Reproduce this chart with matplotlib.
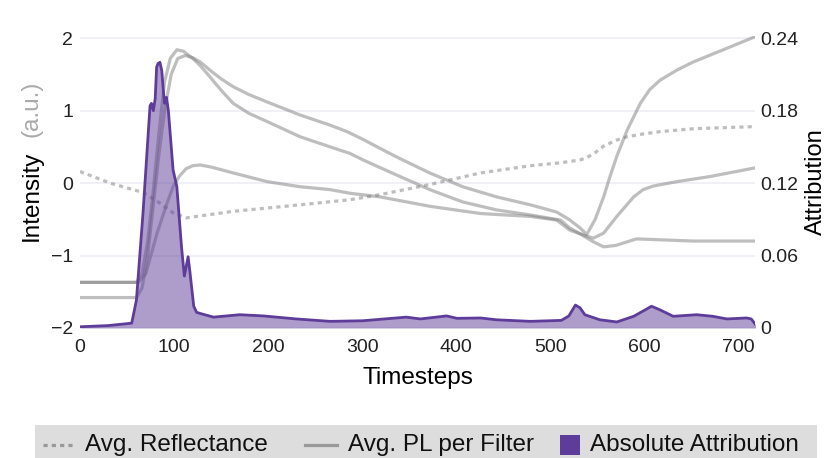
import numpy as np
import matplotlib.pyplot as plt
from matplotlib.lines import Line2D
from matplotlib.patches import Rectangle

plt.rcParams['font.family'] = ['Liberation Sans', 'DejaVu Sans']

# values
refl_t = [0, 32, 67, 82, 99, 113, 163, 234, 287, 319, 372, 426, 479, 511, 532, 539, 548, 557, 570, 582, 600,
          617, 652, 718]
refl_v = [0.16, 0.0, -0.13, -0.25, -0.41, -0.48, -0.39, -0.30, -0.23, -0.16, -0.02, 0.14, 0.24, 0.28, 0.32,
          0.35, 0.42, 0.51, 0.59, 0.64, 0.68, 0.71, 0.75, 0.78]

pl1_t = [0, 60, 66, 72, 78, 84, 90, 97, 104, 112, 120, 128, 140, 150, 163, 180, 199, 234, 266, 284, 300, 319,
         340, 372, 407, 443, 479, 507, 520, 532, 539, 548, 557, 564, 571, 582, 596, 606, 617, 635, 652, 688,
         718]
pl1_v = [-1.58, -1.58, -1.45, -1.0, -0.3, 0.4, 1.0, 1.5, 1.72, 1.76, 1.73, 1.67, 1.54, 1.44, 1.33, 1.22, 1.12,
         0.94, 0.80, 0.71, 0.61, 0.48, 0.34, 0.14, -0.05, -0.19, -0.30, -0.40, -0.50, -0.62, -0.71, -0.50,
         -0.19, 0.10, 0.37, 0.73, 1.10, 1.29, 1.42, 1.56, 1.67, 1.86, 2.02]

pl2_t = [0, 60, 66, 72, 78, 84, 90, 96, 103, 110, 120, 128, 136, 145, 153, 163, 180, 199, 234, 266, 287, 301,
         337, 372, 407, 443, 479, 511, 521, 532, 546, 557, 571, 589, 599, 610, 635, 670, 718]
pl2_v = [-1.37, -1.37, -1.25, -0.8, -0.1, 0.7, 1.4, 1.72, 1.84, 1.82, 1.72, 1.62, 1.50, 1.36, 1.24, 1.10, 0.96,
         0.85, 0.64, 0.50, 0.41, 0.32, 0.11, -0.09, -0.26, -0.37, -0.44, -0.51, -0.62, -0.70, -0.76, -0.69,
         -0.46, -0.19, -0.09, -0.04, 0.02, 0.09, 0.21]

pl3_t = [0, 62, 70, 82, 92, 99, 106, 113, 120, 128, 140, 163, 199, 234, 266, 287, 319, 372, 426, 479, 507, 521,
         532, 546, 557, 570, 592, 652, 718]
pl3_v = [-1.37, -1.37, -1.25, -0.69, -0.30, -0.05, 0.10, 0.20, 0.24, 0.25, 0.22, 0.14, 0.02, -0.05, -0.09,
         -0.14, -0.19, -0.32, -0.42, -0.46, -0.51, -0.65, -0.70, -0.81, -0.88, -0.86, -0.77, -0.80, -0.80]

attr_t = [0, 30, 55, 60, 67, 74.5, 76, 78, 80, 81.5, 83, 85, 87, 88.6, 90, 92, 94, 99, 103, 108, 111, 115, 117,
          121, 124, 128, 142, 170, 195, 230, 266, 301, 347, 362, 390, 401, 426, 443, 479, 512, 520, 527, 532,
          537, 553, 571, 589, 608, 617, 631, 656, 673, 688, 709, 714, 720]
attr_v = [0.001, 0.002, 0.004, 0.023, 0.095, 0.184, 0.186, 0.18, 0.19, 0.216, 0.219, 0.22, 0.213, 0.197, 0.186,
          0.191, 0.18, 0.131, 0.117, 0.067, 0.043, 0.059, 0.046, 0.018, 0.013, 0.012, 0.009, 0.011, 0.010,
          0.0075, 0.0055, 0.006, 0.009, 0.0075, 0.010, 0.008, 0.0083, 0.0068, 0.0055, 0.0063, 0.010, 0.019,
          0.0166, 0.011, 0.0068, 0.005, 0.0097, 0.018, 0.015, 0.0097, 0.011, 0.0097, 0.0075, 0.0083, 0.0075,
          0.0014]

left_ticks = [-2, -1, 0, 1, 2]
right_ticks = [0, 0.06, 0.12, 0.18, 0.24]
right_labels = ['0', '0.06', '0.12', '0.18', '0.24']
x_ticks = [0, 100, 200, 300, 400, 500, 600, 700]

gray = '#7f7f7f'
purple = '#5e3c99'
W, H = 829, 458

fig = plt.figure(figsize=(W / 100, H / 100), dpi=100)
ax = fig.add_axes([80 / W, 1 - 328 / H, 675 / W, 292 / H])
ax2 = ax.twinx()

for v in left_ticks:
    ax.axhline(v, color='#eceff6', lw=1.2, zorder=0)

ax.plot(refl_t, refl_v, color=gray, alpha=0.5, lw=2.3, linestyle=(0, (1.3, 1.3)), dash_capstyle='butt')
for t, v in [(pl1_t, pl1_v), (pl2_t, pl2_v), (pl3_t, pl3_v)]:
    ax.plot(t, v, color=gray, alpha=0.5, lw=2.3, solid_joinstyle='round')

ax2.fill_between(attr_t, 0, attr_v, color=purple, alpha=0.5, lw=0)
ax2.plot(attr_t, attr_v, color=purple, lw=2.0)

ax.set_xlim(0, 718)
ax.set_ylim(-2, 2.03)
ax2.set_ylim(0, 0.24 * 4.03 / 4)

ax.set_xticks(x_ticks)
ax.set_yticks(left_ticks)
ax2.set_yticks(right_ticks)
ax2.set_yticklabels(right_labels)
for a in (ax, ax2):
    for s in a.spines.values():
        s.set_visible(False)
    a.tick_params(length=0, labelsize=14, colors='#222222')
ax.tick_params(axis='x', pad=8)
ax.tick_params(axis='y', pad=5)
ax2.tick_params(axis='y', pad=4)

ax.set_xlabel('Timesteps', fontsize=17.5, labelpad=8)
fig.text(32 / W, 1 - 196 / H, 'Intensity', rotation=90, fontsize=17.5, ha='center', va='center')
fig.text(32 / W, 1 - 109 / H, '(a.u.)', rotation=90, fontsize=17.5, ha='center', va='center', color='#aaaaaa')
fig.text(816 / W, 1 - 182 / H, 'Attribution', rotation=90, fontsize=17, ha='center', va='center')

# legend strip along the bottom
fig.add_artist(Rectangle((35 / W, 0), 782 / W, 33 / H, transform=fig.transFigure,
                         facecolor='#dddddd', edgecolor='none'))
ly = 1 - 445 / H
fig.add_artist(Line2D([43 / W, 75 / W], [ly, ly], transform=fig.transFigure, color='#999999', lw=2.3,
                      linestyle=(0, (1.3, 1.3)), dash_capstyle='butt'))
fig.text(85 / W, ly, 'Avg. Reflectance', fontsize=17.5, va='center', color='#111111')
fig.add_artist(Line2D([305 / W, 337 / W], [ly, ly], transform=fig.transFigure, color='#999999', lw=2.3))
fig.text(348 / W, ly, 'Avg. PL per Filter', fontsize=17.5, va='center', color='#111111')
fig.add_artist(Rectangle((560 / W, 1 - 455 / H), 20 / W, 20 / H, transform=fig.transFigure,
                         facecolor=purple, edgecolor='none'))
fig.text(590 / W, ly, 'Absolute Attribution', fontsize=17.5, va='center', color='#111111')

fig.savefig('out.png', dpi=100)
